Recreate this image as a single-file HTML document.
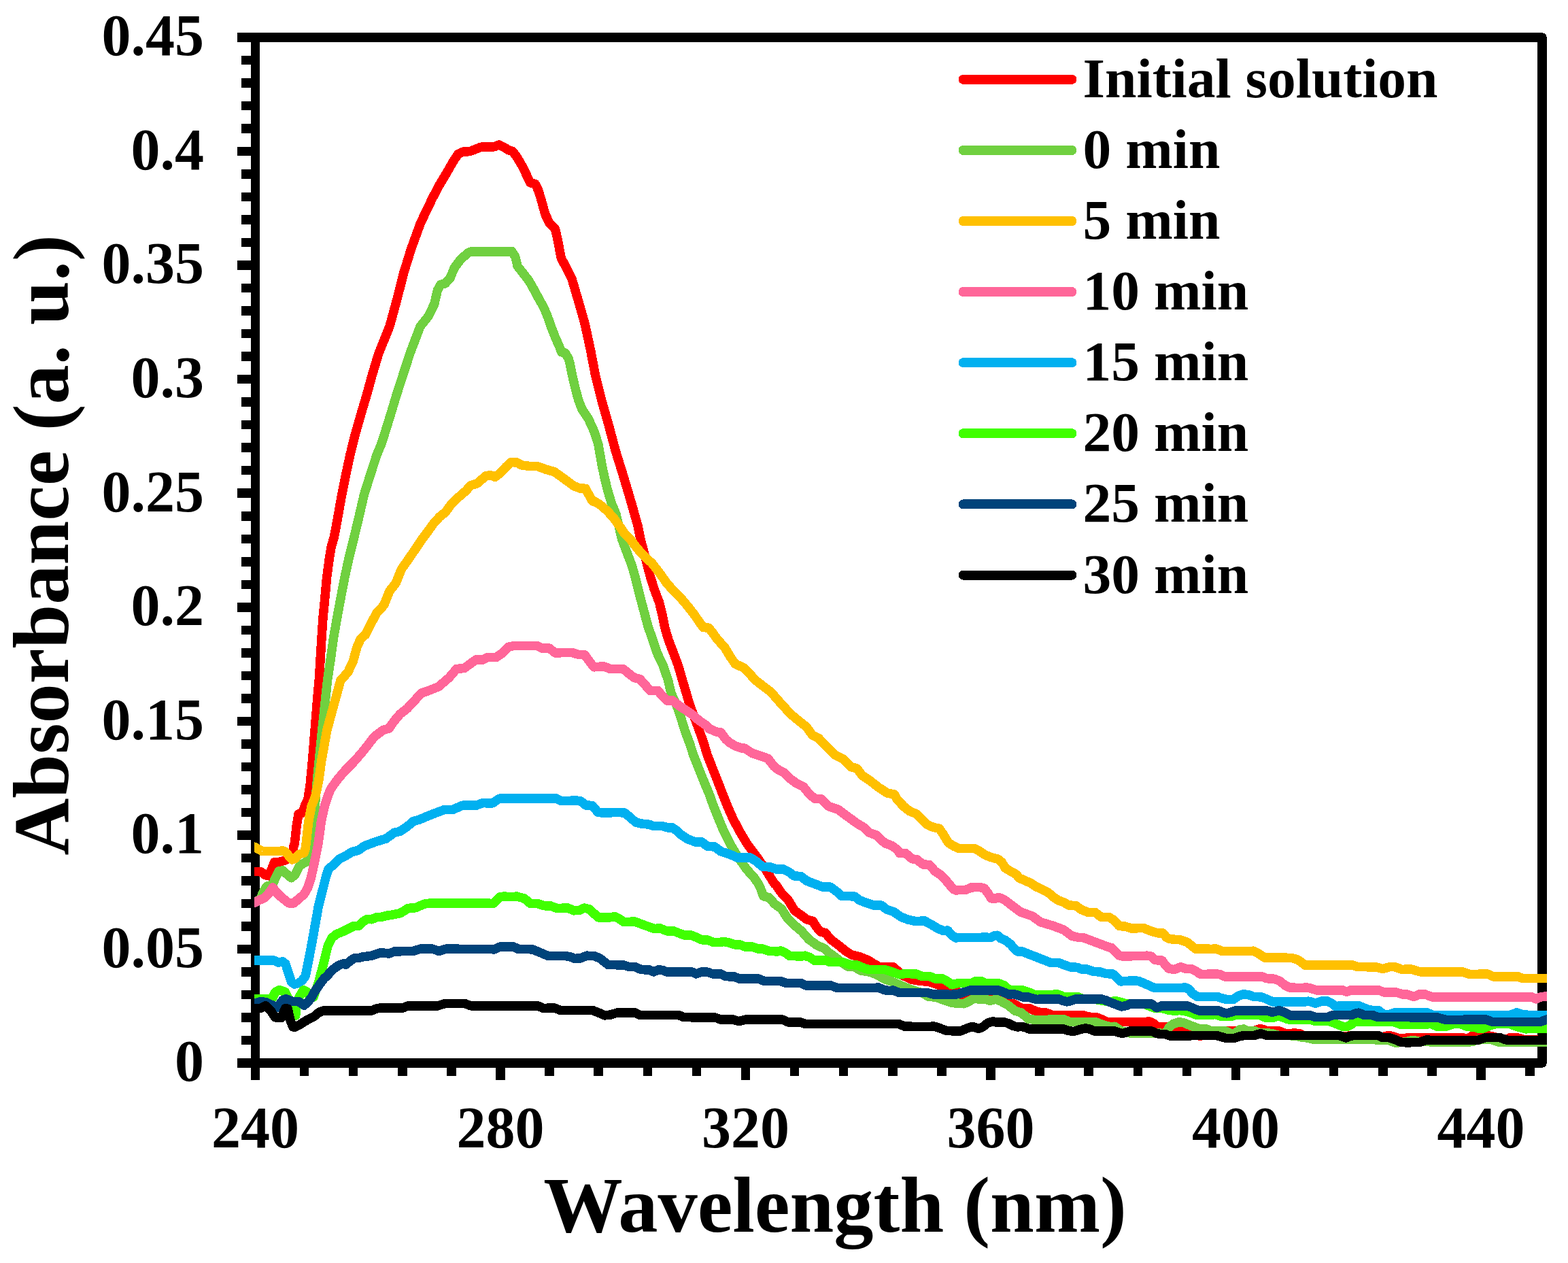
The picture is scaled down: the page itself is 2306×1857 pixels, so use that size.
<!DOCTYPE html>
<html lang="en"><head><meta charset="utf-8"><title>UV-Vis absorbance spectra</title>
<style>
html,body{margin:0;padding:0;background:#fff;}
body{width:2306px;height:1857px;overflow:hidden;}
svg{display:block;}
text{font-family:"Liberation Serif","Times New Roman",serif;font-weight:bold;fill:#000;}
.tk{font-size:86px;}
.ti{font-size:116.5px;}
.lg{font-size:83.5px;}
.c{fill:none;stroke-width:13.5;stroke-linejoin:round;stroke-linecap:butt;}
</style></head><body>
<svg width="2306" height="1857" viewBox="0 0 2306 1857" shape-rendering="crispEdges">
<rect x="0" y="0" width="2306" height="1857" fill="#fff"/>
<defs><clipPath id="cp"><rect x="374" y="40" width="1901" height="1540"/></clipPath></defs>
<g fill="none" stroke="#000" stroke-width="13.5">
<rect x="375.5" y="55" width="1892.5" height="1508" stroke-linejoin="round"/>
</g>
<path d="M349 1563.0H376M355 1529.5H376M355 1496.0H376M355 1462.5H376M355 1429.0H376M349 1395.5H376M355 1361.9H376M355 1328.4H376M355 1294.9H376M355 1261.4H376M349 1227.9H376M355 1194.4H376M355 1160.9H376M355 1127.4H376M355 1093.9H376M349 1060.3H376M355 1026.8H376M355 993.3H376M355 959.8H376M355 926.3H376M349 892.8H376M355 859.3H376M355 825.8H376M355 792.3H376M355 758.8H376M349 725.2H376M355 691.7H376M355 658.2H376M355 624.7H376M355 591.2H376M349 557.7H376M355 524.2H376M355 490.7H376M355 457.2H376M355 423.7H376M349 390.1H376M355 356.6H376M355 323.1H376M355 289.6H376M355 256.1H376M349 222.6H376M355 189.1H376M355 155.6H376M355 122.1H376M355 88.6H376M349 55.0H376M375.5 1563V1588M447.6 1563V1582M519.7 1563V1582M591.8 1563V1582M663.9 1563V1582M736.0 1563V1588M808.1 1563V1582M880.2 1563V1582M952.3 1563V1582M1024.4 1563V1582M1096.5 1563V1588M1168.6 1563V1582M1240.7 1563V1582M1312.8 1563V1582M1384.9 1563V1582M1457.0 1563V1588M1529.1 1563V1582M1601.2 1563V1582M1673.3 1563V1582M1745.4 1563V1582M1817.5 1563V1588M1889.6 1563V1582M1961.7 1563V1582M2033.8 1563V1582M2105.9 1563V1582M2178.0 1563V1588M2250.1 1563V1582" fill="none" stroke="#000" stroke-width="13.5"/>
<text class="tk" x="300" y="1589.2" text-anchor="end">0</text>
<text class="tk" x="300" y="1421.7" text-anchor="end">0.05</text>
<text class="tk" x="300" y="1254.1" text-anchor="end">0.1</text>
<text class="tk" x="300" y="1086.5" text-anchor="end">0.15</text>
<text class="tk" x="300" y="919.0" text-anchor="end">0.2</text>
<text class="tk" x="300" y="751.5" text-anchor="end">0.25</text>
<text class="tk" x="300" y="583.9" text-anchor="end">0.3</text>
<text class="tk" x="300" y="416.3" text-anchor="end">0.35</text>
<text class="tk" x="300" y="248.8" text-anchor="end">0.4</text>
<text class="tk" x="300" y="81.2" text-anchor="end">0.45</text>
<text class="tk" x="375.5" y="1687" text-anchor="middle">240</text>
<text class="tk" x="736.0" y="1687" text-anchor="middle">280</text>
<text class="tk" x="1096.5" y="1687" text-anchor="middle">320</text>
<text class="tk" x="1457.0" y="1687" text-anchor="middle">360</text>
<text class="tk" x="1817.5" y="1687" text-anchor="middle">400</text>
<text class="tk" x="2178.0" y="1687" text-anchor="middle">440</text>
<text class="ti" transform="translate(100.3 801.5) rotate(-90)" text-anchor="middle">Absorbance (a. u.)</text>
<text class="ti" x="1228" y="1811" text-anchor="middle">Wavelength (nm)</text>
<g clip-path="url(#cp)">
<path class="c" stroke="#FF0000" d="M361.9 1281.3 L373.9 1281.3 L383.2 1281.3 L389.7 1286.4 L395.3 1287.8 L399.0 1279.0 L403.6 1267.8 L410.1 1267.4 L417.5 1265.5 L424.9 1262.3 L430.5 1253.0 L431.9 1244.6 L433.3 1240.0 L436.0 1215.2 L439.1 1196.7 L444.6 1195.2 L449.1 1182.6 L452.8 1175.1 L455.9 1155.8 L458.8 1126.2 L461.8 1089.1 L464.8 1051.9 L467.8 1014.8 L469.2 1000.0 L471.2 967.8 L473.0 938.1 L475.0 908.4 L477.9 878.7 L480.6 849.1 L484.6 819.4 L487.1 804.5 L491.3 789.7 L494.2 774.8 L496.9 760.0 L502.6 727.8 L508.6 698.1 L515.0 668.4 L522.4 638.7 L530.8 609.1 L539.7 579.4 L547.8 549.7 L556.8 520.0 L572.9 480.0 L584.0 439.7 L593.3 402.6 L604.8 365.5 L618.3 328.4 L636.0 291.3 L645.8 272.8 L656.9 254.2 L667.5 235.7 L674.0 226.4 L681.4 223.0 L690.7 222.7 L707.4 216.2 L726.9 215.8 L733.9 213.0 L740.8 216.2 L747.3 220.4 L754.1 222.7 L760.3 231.0 L769.5 246.8 L779.7 268.7 L787.2 270.5 L791.8 280.2 L795.5 292.2 L802.0 315.4 L807.9 327.5 L816.5 336.8 L820.6 354.4 L825.2 379.4 L831.7 391.5 L841.0 410.1 L846.5 428.6 L853.0 450.9 L858.6 470.4 L861.0 480.0 L868.4 514.2 L875.5 551.3 L884.7 588.4 L895.3 625.5 L905.2 662.6 L916.7 699.7 L928.7 740.0 L938.3 774.2 L942.0 792.8 L951.7 829.9 L956.5 848.4 L962.4 867.0 L969.5 885.5 L974.0 904.1 L977.7 922.6 L983.2 941.2 L990.3 959.7 L997.3 978.3 L1003.6 1000.0 L1009.1 1018.6 L1014.6 1037.1 L1028.5 1074.2 L1035.0 1092.8 L1040.6 1111.3 L1048.0 1129.9 L1055.4 1148.4 L1062.5 1167.0 L1069.9 1185.5 L1078.1 1204.1 L1087.9 1222.6 L1099.0 1241.2 L1112.9 1259.7 L1125.9 1278.3 L1139.3 1300.0 L1141.0 1300.9 L1150.2 1314.2 L1159.4 1323.7 L1168.6 1338.8 L1177.8 1345.4 L1186.9 1352.1 L1195.3 1354.3 L1201.1 1363.5 L1207.0 1370.1 L1213.7 1371.5 L1222.0 1381.5 L1232.0 1388.8 L1242.9 1397.7 L1252.9 1404.2 L1263.7 1406.5 L1276.3 1411.6 L1285.5 1417.2 L1293.8 1421.9 L1303.8 1422.2 L1313.8 1421.9 L1320.5 1427.8 L1327.2 1433.9 L1340.6 1440.3 L1352.2 1442.3 L1365.6 1443.3 L1379.0 1447.8 L1390.6 1449.5 L1400.0 1452.0 L1403.0 1453.6 L1416.0 1464.0 L1456.0 1464.0 L1471.2 1466.2 L1483.1 1474.4 L1492.0 1476.3 L1502.4 1482.5 L1514.3 1482.8 L1523.2 1486.7 L1532.1 1489.2 L1539.5 1489.2 L1548.4 1492.9 L1594.4 1492.9 L1600.4 1495.1 L1612.2 1495.6 L1619.7 1498.6 L1628.6 1502.6 L1685.0 1502.6 L1689.4 1501.8 L1695.4 1504.0 L1702.8 1510.0 L1720.0 1510.0 L1735.6 1511.5 L1750.5 1519.6 L1765.3 1523.3 L1783.1 1518.9 L1802.4 1515.9 L1817.3 1515.9 L1833.6 1517.4 L1845.5 1515.2 L1852.9 1512.5 L1857.3 1513.4 L1863.3 1515.9 L1881.1 1515.9 L1890.0 1519.6 L1898.9 1519.6 L1903.3 1518.9 L1910.8 1519.6 L1916.7 1522.6 L1937.5 1523.3 L1979.0 1523.3 L2020.0 1522.6 L2033.4 1524.8 L2040.9 1522.6 L2046.8 1523.3 L2055.7 1526.3 L2152.2 1525.9 L2158.1 1527.8 L2165.5 1522.6 L2171.5 1524.8 L2178.9 1525.6 L2187.8 1522.6 L2195.2 1524.1 L2205.6 1526.3 L2214.5 1528.8 L2220.4 1525.9 L2232.3 1525.9 L2241.2 1528.8 L2276.8 1529.6 L2290.8 1529.6"/>
<path class="c" stroke="#70D040" d="M361.9 1326.7 L373.9 1326.7 L382.3 1322.6 L387.8 1310.5 L392.5 1303.1 L400.8 1300.8 L405.5 1290.1 L410.1 1280.8 L415.7 1279.9 L423.1 1286.4 L428.6 1290.8 L434.2 1285.5 L439.8 1274.3 L445.3 1269.7 L450.9 1266.9 L454.6 1258.6 L456.9 1249.3 L458.7 1240.0 L460.9 1207.8 L463.2 1185.5 L466.3 1148.4 L473.7 1074.2 L481.6 1000.0 L486.4 967.8 L490.5 938.1 L495.7 908.4 L501.2 878.7 L506.9 849.1 L513.4 819.4 L520.8 789.7 L527.9 760.0 L535.3 727.8 L544.6 698.1 L554.3 668.4 L560.5 653.6 L565.4 638.7 L574.6 609.1 L583.5 579.4 L593.2 549.7 L602.8 520.0 L618.0 480.0 L629.5 465.7 L638.7 447.2 L643.4 426.8 L648.0 418.4 L654.5 417.1 L661.9 409.1 L668.4 393.4 L676.8 382.2 L687.9 372.0 L691.6 370.2 L747.3 370.2 L752.8 369.6 L757.8 377.6 L761.2 391.5 L768.6 400.8 L777.9 412.8 L785.3 425.8 L792.7 439.7 L800.1 452.7 L805.7 466.6 L810.4 480.0 L816.5 495.7 L823.0 510.5 L825.8 517.9 L831.3 518.8 L836.0 527.2 L837.8 532.8 L841.5 551.3 L845.8 569.9 L850.8 588.4 L855.8 601.4 L865.6 616.3 L874.0 634.8 L879.9 653.4 L884.7 681.2 L888.5 699.7 L892.9 718.3 L899.4 740.0 L905.9 755.7 L914.6 792.8 L921.6 811.3 L928.7 829.9 L934.2 848.4 L938.7 867.0 L943.5 885.5 L948.5 904.1 L953.5 922.6 L960.2 941.2 L966.2 959.7 L975.1 978.3 L982.5 1000.0 L986.8 1018.6 L995.1 1037.1 L1001.6 1055.7 L1007.2 1074.2 L1014.2 1092.8 L1020.2 1111.3 L1027.6 1129.9 L1035.0 1148.4 L1042.8 1167.0 L1049.5 1185.5 L1056.9 1204.1 L1064.7 1222.6 L1074.0 1241.2 L1085.1 1259.7 L1098.1 1278.3 L1108.3 1289.4 L1115.7 1300.0 L1118.1 1305.0 L1122.7 1317.6 L1131.0 1319.7 L1139.4 1329.2 L1149.4 1336.4 L1158.6 1350.9 L1168.6 1360.5 L1178.6 1368.8 L1189.4 1381.0 L1202.0 1390.2 L1212.0 1394.4 L1219.5 1401.0 L1228.7 1407.7 L1240.4 1416.9 L1247.1 1421.1 L1257.1 1421.9 L1265.4 1426.9 L1280.4 1429.4 L1290.5 1433.6 L1300.5 1439.4 L1310.5 1442.8 L1323.9 1448.6 L1340.6 1455.3 L1357.3 1460.3 L1365.6 1465.3 L1377.3 1466.2 L1387.3 1470.3 L1400.0 1474.5 L1417.8 1475.8 L1423.7 1472.9 L1431.9 1468.7 L1449.0 1468.9 L1455.7 1471.4 L1464.6 1469.2 L1472.0 1472.1 L1481.6 1477.3 L1492.8 1486.2 L1502.4 1489.2 L1512.1 1498.1 L1523.2 1499.6 L1564.7 1498.8 L1573.7 1502.6 L1612.2 1502.9 L1622.6 1507.0 L1631.5 1509.5 L1639.0 1509.2 L1649.4 1515.9 L1661.2 1518.9 L1682.0 1519.6 L1696.8 1519.6 L1705.8 1518.9 L1713.4 1520.4 L1719.3 1510.7 L1725.2 1505.5 L1734.1 1502.6 L1741.6 1504.0 L1750.5 1507.8 L1763.8 1512.5 L1774.2 1512.9 L1781.6 1515.9 L1802.4 1515.9 L1809.8 1519.6 L1815.8 1519.6 L1823.2 1514.0 L1829.1 1512.9 L1835.1 1515.9 L1845.5 1515.9 L1854.4 1519.3 L1864.7 1518.9 L1870.7 1519.6 L1881.1 1522.6 L1892.9 1522.6 L1906.3 1523.0 L1913.7 1525.1 L1922.6 1526.0 L1933.0 1528.5 L2020.0 1528.5 L2023.0 1528.8 L2031.9 1529.3 L2042.3 1529.3 L2051.2 1533.0 L2060.1 1532.7 L2069.1 1531.5 L2078.0 1529.3 L2088.3 1531.5 L2098.7 1530.8 L2106.2 1532.7 L2150.7 1532.7 L2165.5 1531.5 L2171.5 1529.3 L2187.8 1527.8 L2193.7 1528.5 L2205.6 1532.7 L2276.8 1532.2 L2290.8 1532.2"/>
<path class="c" stroke="#FFC000" d="M361.9 1245.1 L373.9 1245.1 L385.5 1251.5 L410.1 1251.5 L415.7 1250.9 L419.4 1251.9 L424.9 1258.6 L429.6 1263.9 L434.2 1262.3 L439.8 1256.2 L447.2 1253.9 L449.1 1247.4 L450.2 1240.0 L453.8 1207.8 L458.0 1185.5 L463.9 1170.7 L468.6 1148.4 L472.8 1118.7 L480.7 1074.2 L492.8 1029.7 L501.0 1000.0 L511.6 988.6 L519.5 971.5 L524.7 952.2 L530.3 939.6 L537.7 932.9 L546.2 915.8 L554.1 901.0 L564.5 889.9 L572.9 869.1 L582.3 857.2 L590.4 836.9 L599.6 823.8 L609.3 809.7 L619.7 794.1 L628.6 782.3 L638.2 768.9 L646.4 760.0 L655.2 753.0 L662.6 742.6 L673.8 731.5 L684.9 721.9 L692.3 713.7 L702.0 710.7 L714.6 699.6 L722.0 698.8 L727.9 701.4 L735.4 695.9 L744.3 686.2 L751.7 679.6 L760.0 680.0 L767.3 684.0 L777.5 685.3 L789.6 685.3 L802.6 690.1 L815.5 693.8 L828.5 703.1 L843.4 714.2 L852.7 717.9 L861.0 718.3 L866.6 728.5 L871.2 736.8 L874.3 737.1 L882.7 742.3 L892.9 751.0 L902.2 761.2 L909.6 771.4 L917.9 783.5 L927.2 793.3 L937.4 806.7 L948.5 818.7 L958.7 828.0 L971.7 844.7 L981.0 858.1 L991.2 869.2 L1000.5 878.5 L1011.6 891.5 L1021.4 904.1 L1029.2 915.6 L1034.4 922.6 L1042.2 923.0 L1047.8 930.1 L1055.2 940.3 L1065.4 951.4 L1073.8 965.3 L1081.2 976.1 L1093.2 981.6 L1103.5 991.8 L1110.9 1000.0 L1124.1 1010.2 L1133.4 1017.1 L1148.2 1034.0 L1163.0 1050.1 L1174.2 1059.4 L1186.2 1069.0 L1194.6 1080.7 L1203.9 1085.3 L1214.1 1096.5 L1227.1 1109.5 L1240.0 1116.0 L1251.2 1127.6 L1260.4 1129.9 L1267.9 1140.1 L1279.0 1147.5 L1292.9 1158.3 L1305.0 1166.0 L1315.2 1167.9 L1320.0 1176.3 L1329.7 1186.3 L1338.0 1192.8 L1347.3 1196.5 L1354.7 1203.9 L1363.1 1212.2 L1372.4 1216.3 L1381.6 1218.4 L1388.1 1228.0 L1394.6 1239.1 L1403.9 1244.7 L1410.4 1247.7 L1433.6 1247.7 L1441.0 1251.8 L1449.4 1257.3 L1457.7 1260.5 L1467.9 1263.3 L1473.5 1267.9 L1478.1 1275.9 L1487.4 1281.8 L1493.9 1285.2 L1499.4 1291.1 L1506.9 1294.4 L1516.1 1298.5 L1524.5 1304.1 L1532.8 1307.8 L1541.2 1311.9 L1548.6 1318.6 L1556.0 1323.6 L1564.4 1326.7 L1571.8 1331.0 L1582.0 1331.5 L1590.4 1337.5 L1600.6 1341.6 L1610.8 1341.6 L1619.1 1348.2 L1631.2 1348.6 L1638.6 1353.2 L1646.0 1361.6 L1654.4 1362.0 L1663.6 1364.9 L1682.2 1364.6 L1691.5 1368.6 L1700.0 1371.2 L1703.5 1371.9 L1710.2 1371.9 L1715.4 1378.2 L1720.0 1380.6 L1735.6 1381.9 L1746.0 1385.3 L1757.9 1395.0 L1783.1 1395.3 L1787.6 1394.7 L1798.0 1398.7 L1839.5 1398.7 L1843.2 1398.2 L1849.9 1401.3 L1859.6 1408.0 L1898.9 1408.3 L1907.8 1410.8 L1913.7 1414.5 L1918.9 1419.0 L1989.4 1419.0 L1996.8 1421.7 L2020.0 1421.8 L2024.5 1422.0 L2033.4 1424.6 L2043.8 1421.7 L2051.2 1421.7 L2061.6 1425.4 L2075.0 1424.9 L2088.3 1428.8 L2150.7 1428.8 L2161.1 1432.4 L2187.8 1432.1 L2195.2 1435.8 L2232.3 1435.8 L2239.7 1438.7 L2276.8 1438.7 L2290.8 1438.7"/>
<path class="c" stroke="#FF6699" d="M361.9 1327.4 L373.9 1327.4 L381.3 1323.5 L388.8 1320.2 L395.3 1313.3 L401.3 1304.9 L406.4 1311.9 L412.9 1318.4 L420.3 1324.4 L424.9 1327.9 L432.4 1327.9 L439.8 1320.9 L446.7 1315.6 L452.3 1305.9 L457.4 1290.6 L462.0 1270.1 L464.4 1258.6 L468.1 1240.0 L472.4 1207.8 L477.3 1185.5 L482.0 1170.7 L486.2 1160.3 L495.8 1146.9 L506.9 1133.6 L520.3 1120.2 L530.7 1108.3 L540.3 1096.5 L547.0 1087.6 L551.5 1082.4 L563.3 1073.5 L572.2 1070.9 L579.7 1060.1 L588.6 1049.7 L599.0 1041.6 L609.4 1030.4 L619.7 1019.0 L630.1 1015.6 L645.0 1009.6 L660.4 996.4 L671.5 983.5 L682.7 982.5 L690.1 977.1 L700.3 969.7 L709.6 970.1 L717.0 966.4 L730.0 966.4 L737.4 961.2 L747.6 951.2 L755.0 949.7 L790.3 949.7 L796.8 953.0 L807.9 953.0 L816.3 959.9 L841.3 959.5 L850.6 962.3 L859.9 962.7 L866.3 971.6 L873.4 980.9 L887.7 979.7 L897.9 983.6 L916.4 983.5 L923.9 989.6 L932.2 996.1 L941.5 998.8 L948.9 1007.2 L956.3 1015.5 L967.5 1015.5 L974.0 1023.0 L981.4 1030.4 L988.8 1029.8 L999.0 1037.8 L1008.3 1043.9 L1017.6 1050.2 L1027.8 1059.1 L1040.0 1067.5 L1042.4 1071.1 L1054.5 1076.4 L1060.1 1077.0 L1067.5 1087.2 L1073.1 1091.8 L1081.4 1096.8 L1091.6 1100.2 L1095.3 1100.2 L1106.5 1107.6 L1119.4 1111.7 L1129.6 1115.4 L1138.0 1126.5 L1144.5 1131.7 L1153.8 1136.4 L1163.0 1145.6 L1171.4 1151.8 L1181.6 1156.8 L1189.9 1167.0 L1198.3 1174.4 L1207.6 1174.8 L1218.7 1185.5 L1232.6 1190.2 L1247.5 1201.3 L1260.4 1210.6 L1269.7 1216.1 L1279.0 1224.5 L1289.2 1228.2 L1301.3 1239.7 L1311.5 1243.4 L1320.0 1249.5 L1323.2 1254.7 L1331.5 1254.4 L1341.7 1262.9 L1348.2 1263.6 L1357.5 1271.1 L1366.8 1271.4 L1375.1 1280.9 L1383.5 1286.5 L1392.8 1296.3 L1402.0 1307.4 L1405.8 1308.9 L1420.6 1308.2 L1428.9 1304.8 L1441.0 1304.6 L1447.5 1305.9 L1453.1 1313.4 L1457.7 1320.8 L1463.3 1321.2 L1468.8 1319.3 L1477.2 1323.0 L1488.3 1331.5 L1501.3 1341.2 L1518.0 1346.8 L1530.1 1355.7 L1548.6 1361.2 L1564.4 1367.2 L1576.4 1376.1 L1585.7 1378.3 L1592.2 1378.3 L1607.1 1383.9 L1621.9 1389.4 L1634.9 1394.1 L1635.3 1393.9 L1644.9 1404.3 L1650.8 1406.1 L1687.2 1405.2 L1693.1 1406.1 L1699.1 1411.7 L1708.7 1412.0 L1713.9 1419.1 L1718.4 1423.9 L1726.7 1425.7 L1736.4 1421.7 L1744.5 1424.6 L1751.9 1424.6 L1758.6 1427.6 L1764.6 1432.1 L1771.2 1432.4 L1789.1 1431.8 L1795.0 1432.8 L1800.9 1435.8 L1855.8 1435.8 L1862.5 1438.7 L1873.7 1439.2 L1881.8 1442.2 L1890.0 1448.8 L1896.7 1452.1 L1916.7 1452.5 L1921.2 1451.7 L1927.1 1453.1 L1936.0 1455.8 L1974.6 1455.8 L1980.5 1458.3 L1986.5 1455.8 L2020.0 1455.8 L2027.5 1455.8 L2034.9 1458.8 L2052.7 1458.8 L2063.1 1462.0 L2069.1 1462.0 L2079.4 1465.5 L2086.9 1462.0 L2095.8 1462.0 L2106.2 1465.9 L2253.1 1465.9 L2259.0 1468.9 L2265.0 1466.2 L2276.8 1464.3 L2290.8 1464.3"/>
<path class="c" stroke="#00B0F0" d="M361.9 1412.1 L373.9 1412.1 L402.7 1412.1 L409.2 1415.2 L415.7 1413.9 L419.8 1416.9 L428.6 1443.8 L433.3 1447.0 L438.8 1445.7 L444.0 1441.9 L449.1 1435.5 L458.1 1390.0 L468.3 1332.8 L480.1 1286.4 L483.4 1277.1 L489.9 1272.2 L499.1 1263.2 L508.4 1258.3 L517.7 1252.5 L527.0 1250.2 L536.3 1243.7 L552.9 1237.5 L567.8 1233.0 L579.7 1224.4 L588.6 1222.2 L599.0 1215.2 L607.9 1207.5 L616.8 1205.1 L627.2 1200.7 L639.0 1195.9 L653.1 1190.7 L665.0 1190.7 L680.0 1184.3 L684.5 1183.8 L700.3 1184.2 L709.6 1180.7 L724.4 1180.9 L733.7 1174.5 L737.4 1173.8 L817.2 1173.8 L824.6 1177.5 L847.8 1177.1 L853.4 1177.5 L861.7 1184.0 L871.0 1184.4 L879.3 1194.2 L884.9 1195.0 L909.9 1194.6 L918.3 1195.0 L926.6 1201.6 L935.0 1209.1 L942.4 1210.9 L954.5 1212.2 L961.0 1214.6 L974.0 1214.6 L981.4 1216.8 L988.8 1216.8 L995.3 1221.5 L999.9 1226.1 L1010.9 1233.4 L1022.0 1237.8 L1032.2 1238.0 L1040.6 1244.5 L1050.8 1244.9 L1060.1 1251.9 L1073.1 1256.0 L1085.1 1261.2 L1102.7 1260.7 L1111.1 1265.7 L1121.3 1274.2 L1133.4 1275.0 L1142.6 1278.3 L1151.9 1277.9 L1160.3 1282.0 L1167.7 1287.9 L1177.9 1288.5 L1186.2 1295.0 L1197.0 1299.2 L1210.3 1304.2 L1221.2 1304.2 L1230.4 1310.9 L1237.9 1317.6 L1248.7 1317.6 L1257.1 1318.1 L1263.7 1323.4 L1272.9 1327.1 L1285.5 1331.2 L1296.3 1331.1 L1303.8 1337.1 L1313.8 1340.4 L1325.5 1348.4 L1335.5 1352.1 L1346.4 1354.5 L1359.8 1354.0 L1369.6 1359.4 L1378.8 1364.9 L1387.2 1368.6 L1393.7 1368.1 L1399.3 1374.6 L1405.8 1379.0 L1408.9 1378.5 L1451.9 1378.2 L1456.4 1378.6 L1462.3 1375.8 L1466.8 1375.2 L1471.2 1379.4 L1478.7 1382.6 L1486.1 1388.3 L1491.3 1394.2 L1496.5 1399.0 L1503.2 1399.0 L1511.3 1402.2 L1528.4 1408.8 L1544.7 1415.3 L1557.3 1415.6 L1566.2 1419.1 L1574.4 1422.0 L1584.0 1422.3 L1590.0 1424.9 L1598.9 1425.2 L1608.5 1428.6 L1617.4 1428.9 L1626.3 1431.6 L1636.7 1432.1 L1642.7 1438.0 L1647.9 1442.9 L1657.5 1442.4 L1664.9 1441.7 L1674.6 1442.4 L1683.5 1446.2 L1697.6 1452.4 L1720.0 1452.4 L1738.6 1452.4 L1743.0 1451.8 L1748.2 1454.3 L1754.2 1461.0 L1760.9 1465.5 L1790.5 1465.5 L1796.5 1467.7 L1803.9 1469.5 L1814.3 1469.2 L1821.7 1464.0 L1829.1 1461.7 L1836.5 1462.9 L1844.0 1465.5 L1854.4 1465.9 L1861.8 1468.4 L1871.4 1472.9 L1919.7 1472.9 L1924.1 1472.1 L1930.1 1473.6 L1934.5 1475.1 L1943.4 1472.1 L1952.3 1472.1 L1958.3 1475.1 L1964.2 1479.6 L1971.6 1478.8 L1998.3 1478.8 L2005.8 1481.8 L2013.2 1484.7 L2020.0 1485.5 L2027.5 1485.8 L2036.4 1492.2 L2042.3 1491.7 L2051.2 1488.8 L2098.7 1488.8 L2107.6 1492.6 L2220.4 1492.6 L2230.8 1488.8 L2241.2 1492.2 L2276.8 1492.6 L2290.8 1492.6"/>
<path class="c" stroke="#40FF00" d="M361.9 1468.8 L373.9 1468.8 L399.9 1468.8 L405.0 1458.6 L411.0 1455.6 L419.4 1458.6 L426.8 1473.5 L432.4 1492.0 L434.7 1493.2 L435.6 1482.8 L439.8 1466.1 L446.3 1455.6 L451.8 1458.6 L456.5 1467.0 L461.1 1466.1 L464.8 1454.9 L468.5 1444.7 L475.5 1417.8 L482.4 1390.0 L488.0 1379.1 L494.5 1373.6 L503.8 1369.9 L513.1 1365.2 L520.5 1361.5 L527.0 1361.5 L534.4 1355.0 L540.0 1351.3 L546.5 1351.8 L553.9 1348.7 L560.0 1348.5 L568.7 1346.3 L577.1 1345.1 L588.8 1342.6 L600.4 1335.4 L611.3 1334.7 L623.8 1329.2 L630.5 1328.2 L720.0 1328.2 L725.0 1328.7 L735.9 1318.4 L743.4 1318.1 L750.1 1318.7 L760.1 1318.1 L771.0 1320.9 L780.1 1328.4 L790.2 1328.4 L800.2 1331.7 L810.2 1332.1 L818.6 1335.4 L835.3 1335.1 L843.6 1338.8 L851.9 1338.4 L859.5 1335.1 L867.0 1336.8 L879.5 1348.8 L897.0 1348.8 L904.5 1347.6 L912.1 1351.8 L917.1 1355.5 L933.8 1355.1 L947.1 1360.1 L962.2 1365.5 L970.5 1364.8 L980.5 1368.8 L990.5 1368.8 L1005.6 1374.8 L1017.3 1375.2 L1032.3 1381.8 L1040.0 1381.8 L1049.2 1385.5 L1058.4 1385.5 L1065.0 1384.5 L1073.4 1386.3 L1080.1 1388.8 L1088.4 1389.0 L1095.1 1391.9 L1106.8 1392.2 L1115.1 1395.2 L1121.8 1395.2 L1131.8 1398.5 L1143.5 1398.9 L1148.5 1398.0 L1155.2 1401.0 L1161.1 1405.5 L1178.6 1406.0 L1183.6 1405.2 L1190.3 1407.2 L1197.8 1412.2 L1213.7 1411.9 L1220.3 1414.4 L1238.7 1414.4 L1250.4 1418.6 L1260.4 1418.9 L1272.9 1424.4 L1277.1 1425.3 L1300.5 1425.3 L1310.5 1428.6 L1323.0 1432.8 L1330.5 1431.6 L1347.2 1431.9 L1355.6 1435.3 L1367.3 1435.6 L1375.6 1438.9 L1385.6 1438.9 L1392.3 1442.3 L1400.0 1447.8 L1408.9 1445.7 L1429.7 1445.4 L1434.1 1442.7 L1443.0 1442.7 L1449.0 1445.7 L1468.3 1445.7 L1477.2 1449.1 L1484.6 1455.8 L1503.9 1455.8 L1512.8 1458.8 L1521.7 1462.5 L1548.4 1462.5 L1552.9 1461.4 L1557.3 1462.5 L1564.7 1465.9 L1585.5 1465.9 L1591.5 1468.4 L1607.8 1468.9 L1631.5 1472.9 L1640.4 1471.7 L1649.4 1473.6 L1655.3 1475.8 L1667.2 1475.8 L1682.0 1475.5 L1690.9 1479.6 L1696.8 1481.8 L1708.7 1482.5 L1720.0 1485.5 L1729.7 1486.2 L1734.1 1485.5 L1743.0 1486.7 L1750.5 1488.8 L1759.4 1492.2 L1783.1 1492.2 L1787.6 1491.4 L1796.5 1494.7 L1809.8 1494.7 L1815.8 1492.9 L1821.7 1492.2 L1852.9 1492.2 L1860.3 1495.9 L1872.2 1496.2 L1881.1 1493.7 L1888.5 1496.6 L1894.4 1498.8 L1925.6 1498.8 L1933.0 1501.1 L1952.3 1501.1 L1959.7 1503.3 L1967.2 1506.3 L1974.6 1509.2 L1980.5 1509.5 L1986.5 1507.0 L1990.9 1502.6 L2020.0 1502.6 L2049.8 1502.6 L2060.1 1506.3 L2098.7 1506.3 L2103.2 1504.8 L2113.6 1509.2 L2126.9 1509.2 L2137.3 1505.5 L2147.7 1505.5 L2158.1 1509.5 L2167.0 1510.0 L2174.4 1512.2 L2181.9 1511.9 L2193.7 1507.0 L2199.7 1505.5 L2220.4 1505.5 L2232.3 1510.0 L2244.2 1512.9 L2256.1 1511.9 L2276.8 1511.9 L2290.8 1511.9"/>
<path class="c" stroke="#00437A" d="M361.9 1475.5 L373.9 1475.5 L383.2 1472.7 L390.6 1473.5 L407.8 1481.2 L415.7 1470.7 L420.3 1468.8 L431.4 1472.7 L438.8 1472.3 L447.2 1478.1 L452.8 1473.5 L458.3 1466.1 L462.0 1459.1 L471.3 1445.7 L476.9 1438.4 L481.5 1434.5 L488.0 1426.6 L493.6 1422.5 L498.2 1419.2 L504.7 1416.9 L508.4 1418.3 L515.8 1412.4 L521.4 1408.6 L527.0 1408.7 L533.5 1406.9 L545.5 1405.4 L552.9 1403.0 L560.0 1400.7 L572.1 1402.0 L580.4 1398.9 L607.1 1398.5 L618.8 1395.0 L635.5 1395.0 L645.5 1398.4 L655.5 1395.2 L720.0 1395.4 L726.7 1396.0 L735.9 1391.9 L755.1 1391.9 L762.6 1395.5 L775.1 1395.5 L783.5 1396.0 L794.3 1400.5 L806.0 1405.5 L830.2 1405.5 L837.8 1406.5 L845.3 1409.4 L853.6 1408.9 L862.8 1405.2 L873.7 1405.5 L882.0 1408.9 L894.5 1418.6 L917.1 1418.9 L925.4 1421.6 L933.8 1421.6 L942.9 1425.6 L955.5 1426.1 L961.3 1428.9 L968.8 1425.6 L975.5 1426.9 L980.5 1428.9 L1017.3 1428.9 L1023.9 1431.9 L1032.3 1428.9 L1040.0 1429.1 L1048.3 1431.9 L1060.0 1431.9 L1067.6 1435.6 L1080.1 1436.1 L1086.8 1438.9 L1115.1 1438.9 L1123.5 1442.4 L1138.5 1442.6 L1146.9 1442.3 L1156.9 1445.6 L1178.6 1445.6 L1185.3 1449.0 L1222.0 1449.0 L1230.4 1452.3 L1285.5 1452.5 L1292.1 1452.0 L1300.5 1455.6 L1307.2 1456.5 L1313.8 1456.1 L1322.2 1459.5 L1363.9 1459.5 L1372.3 1462.0 L1400.0 1462.3 L1408.9 1461.7 L1417.8 1458.8 L1427.5 1455.8 L1467.5 1455.8 L1474.2 1458.0 L1483.1 1462.0 L1490.5 1461.7 L1496.5 1463.2 L1503.9 1465.9 L1512.8 1466.2 L1518.7 1468.0 L1524.7 1469.5 L1530.6 1468.9 L1557.3 1468.9 L1563.3 1471.4 L1569.2 1472.9 L1575.1 1471.4 L1582.6 1468.9 L1619.7 1468.9 L1625.6 1470.6 L1631.5 1473.3 L1640.4 1476.6 L1649.4 1479.9 L1656.8 1478.4 L1662.7 1475.8 L1693.1 1475.8 L1701.3 1481.8 L1708.7 1478.8 L1720.0 1478.8 L1746.0 1478.8 L1753.4 1481.8 L1762.3 1485.8 L1792.0 1485.8 L1798.0 1488.5 L1803.9 1489.9 L1809.8 1488.5 L1815.8 1486.2 L1864.7 1486.2 L1870.7 1488.5 L1881.1 1485.8 L1887.0 1487.7 L1897.4 1492.9 L1927.1 1492.9 L1934.5 1495.6 L1952.3 1495.6 L1959.7 1492.6 L1987.9 1492.6 L1993.9 1489.9 L1998.3 1489.2 L2005.8 1492.2 L2020.0 1492.9 L2026.0 1495.6 L2113.6 1495.9 L2126.9 1499.6 L2184.8 1498.8 L2195.2 1502.6 L2265.0 1502.6 L2276.8 1498.1 L2290.8 1498.1"/>
<path class="c" stroke="#000000" d="M361.9 1482.3 L373.9 1482.3 L383.2 1482.3 L390.6 1478.8 L399.0 1487.4 L404.5 1495.8 L413.8 1496.3 L419.4 1482.8 L423.1 1483.2 L427.3 1501.3 L431.0 1509.9 L434.7 1509.9 L441.6 1506.0 L452.8 1499.0 L462.0 1494.4 L469.5 1488.3 L476.0 1486.0 L546.5 1486.0 L552.9 1483.2 L560.0 1481.8 L592.1 1482.0 L600.4 1478.8 L643.9 1478.8 L653.9 1475.7 L683.9 1475.7 L692.3 1478.8 L720.0 1478.8 L791.0 1478.8 L798.5 1482.4 L815.2 1482.0 L825.2 1485.7 L872.0 1485.7 L880.3 1489.0 L889.5 1492.9 L897.9 1492.0 L907.9 1489.0 L933.8 1489.0 L941.3 1492.4 L998.1 1492.4 L1005.6 1495.7 L1040.0 1495.9 L1052.5 1496.2 L1060.0 1499.2 L1078.4 1499.1 L1086.8 1501.7 L1095.9 1499.1 L1151.0 1499.1 L1159.4 1502.9 L1177.8 1503.2 L1185.3 1505.7 L1322.2 1505.7 L1330.5 1509.2 L1365.6 1509.4 L1374.0 1509.1 L1382.3 1511.7 L1390.6 1515.1 L1400.0 1515.8 L1412.6 1515.9 L1420.0 1512.9 L1427.5 1510.0 L1432.7 1510.0 L1438.9 1512.5 L1445.3 1510.0 L1452.7 1504.0 L1460.1 1501.8 L1463.8 1502.9 L1477.2 1502.9 L1483.1 1504.8 L1490.5 1508.5 L1496.5 1510.0 L1500.9 1509.4 L1506.9 1510.4 L1514.3 1513.2 L1564.7 1513.2 L1570.7 1515.2 L1578.1 1516.7 L1587.0 1514.0 L1595.9 1511.9 L1601.9 1512.9 L1609.3 1515.9 L1639.0 1515.9 L1644.9 1518.1 L1650.8 1519.6 L1661.2 1516.2 L1693.9 1516.2 L1699.8 1518.9 L1705.8 1520.4 L1713.2 1520.4 L1720.0 1522.9 L1789.1 1522.6 L1795.0 1524.1 L1802.4 1526.3 L1815.8 1526.3 L1823.2 1523.8 L1829.1 1522.6 L1844.0 1522.6 L1848.4 1521.1 L1854.4 1519.6 L1858.8 1521.1 L1863.3 1522.6 L1970.1 1522.6 L1976.1 1524.8 L1979.8 1525.9 L1985.0 1523.3 L1990.9 1522.6 L2020.0 1522.6 L2027.5 1522.6 L2033.4 1525.6 L2042.3 1525.6 L2049.8 1527.8 L2060.1 1532.2 L2069.1 1533.0 L2088.3 1532.2 L2098.7 1528.8 L2106.2 1529.6 L2172.9 1529.6 L2184.8 1525.6 L2190.8 1525.3 L2205.6 1525.6 L2214.5 1528.8 L2220.4 1529.6 L2276.8 1529.6 L2290.8 1529.6"/>
</g>
<path d="M1416.5 116.8H1576.5" fill="none" stroke="#FF0000" stroke-width="14" stroke-linecap="round"/>
<text class="lg" x="1592.5" y="142.8">Initial solution</text>
<path d="M1416.5 220.9H1576.5" fill="none" stroke="#70D040" stroke-width="14" stroke-linecap="round"/>
<text class="lg" x="1592.5" y="246.9">0 min</text>
<path d="M1416.5 325.0H1576.5" fill="none" stroke="#FFC000" stroke-width="14" stroke-linecap="round"/>
<text class="lg" x="1592.5" y="351.0">5 min</text>
<path d="M1416.5 429.1H1576.5" fill="none" stroke="#FF6699" stroke-width="14" stroke-linecap="round"/>
<text class="lg" x="1592.5" y="455.1">10 min</text>
<path d="M1416.5 533.2H1576.5" fill="none" stroke="#00B0F0" stroke-width="14" stroke-linecap="round"/>
<text class="lg" x="1592.5" y="559.2">15 min</text>
<path d="M1416.5 637.3H1576.5" fill="none" stroke="#40FF00" stroke-width="14" stroke-linecap="round"/>
<text class="lg" x="1592.5" y="663.3">20 min</text>
<path d="M1416.5 741.4H1576.5" fill="none" stroke="#00437A" stroke-width="14" stroke-linecap="round"/>
<text class="lg" x="1592.5" y="767.4">25 min</text>
<path d="M1416.5 845.5H1576.5" fill="none" stroke="#000000" stroke-width="14" stroke-linecap="round"/>
<text class="lg" x="1592.5" y="871.5">30 min</text>
</svg>
</body></html>
